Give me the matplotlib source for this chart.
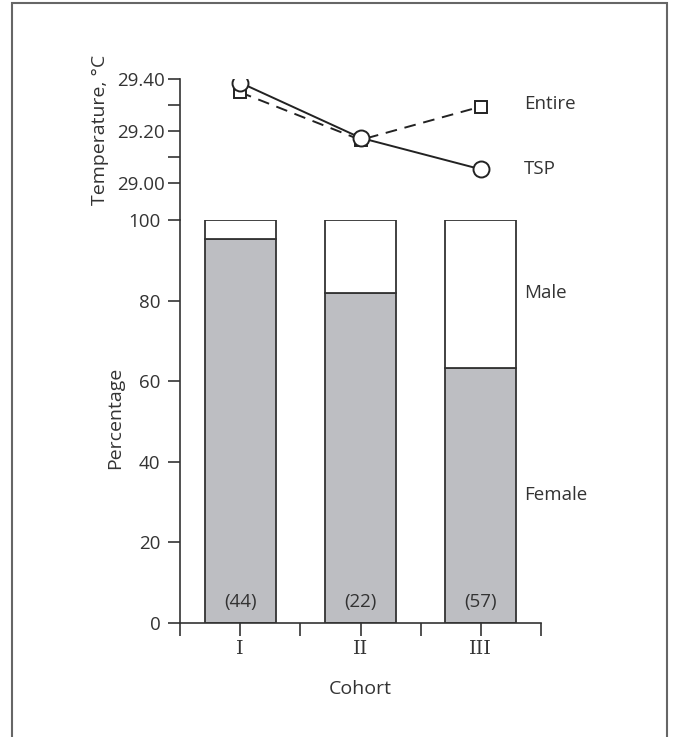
import matplotlib.pyplot as plt
from matplotlib.patches import Rectangle

# data
cohorts = ["I", "II", "III"]
female = [95.2, 81.8, 63.2]
male = [100 - f for f in female]
n_counts = ["(44)", "(22)", "(57)"]
temp_tsp = [29.387, 29.175, 29.054]
temp_entire = [29.35, 29.167, 29.295]

plt.rcParams['font.family'] = ['Open Sans', 'DejaVu Sans']
txt = "#333333"
edge = "#333333"
grey = "#bdbec2"

fig = plt.figure(figsize=(6.78, 7.37), dpi=100)

# frame around the figure
fig.patches.append(Rectangle((12 / 678, -0.05), 655 / 678, 1.05 - 3 / 737,
                             transform=fig.transFigure, fill=False,
                             edgecolor="#666666", linewidth=1.5))

x = list(range(len(cohorts)))

# bar panel
ax = fig.add_axes([180 / 678, 1 - 623 / 737, 361 / 678, 403 / 737])
ax.bar(x, female, width=0.59, color=grey, edgecolor=edge, linewidth=1.3)
ax.bar(x, male, width=0.59, bottom=female, color="white", edgecolor=edge, linewidth=1.3)
for xi, n in zip(x, n_counts):
    ax.text(xi, 5.2, n, ha="center", va="center", fontsize=13.5, color=txt)
ax.text(2.36, 81.9, "Male", ha="left", va="center", fontsize=13.5, color=txt)
ax.text(2.36, 31.8, "Female", ha="left", va="center", fontsize=13.5, color=txt)

ax.set_xlim(-0.5, 2.5)
ax.set_ylim(0, 100)
ax.set_yticks([0, 20, 40, 60, 80, 100])
ax.set_xticks(x)
ax.set_xticklabels(cohorts, family=["DejaVu Serif"], fontsize=14, color=txt)
ax.set_xticks([-0.5, 0.5, 1.5, 2.5], minor=True)
ax.tick_params(axis="x", which="both", direction="out", length=9, width=1.2, color=edge, pad=3)
ax.tick_params(axis="y", direction="out", length=9, width=1.2, color=edge, labelsize=13.5,
               labelcolor=txt, pad=5)
for s in ["top", "right"]:
    ax.spines[s].set_visible(False)
for s in ["left", "bottom"]:
    ax.spines[s].set_linewidth(1.2)
    ax.spines[s].set_color(edge)
ax.set_ylabel("Percentage", fontsize=14, color=txt)
ax.yaxis.set_label_coords(-0.155, 0.51)
ax.set_xlabel("Cohort", fontsize=14, color=txt, labelpad=16)

# temperature panel
ax2 = fig.add_axes([180 / 678, 1 - 220 / 737, 361 / 678, 140.7 / 737])
ax2.plot(x, temp_entire, linestyle=(0, (6, 4)), color="#222222", linewidth=1.4,
         marker="s", markersize=8.5, markerfacecolor="white", markeredgecolor="#222222",
         markeredgewidth=1.4, zorder=2)
ax2.plot(x, temp_tsp, linestyle="-", color="#222222", linewidth=1.4,
         marker="o", markersize=11.5, markerfacecolor="white", markeredgecolor="#222222",
         markeredgewidth=1.4, zorder=3)
ax2.text(2.36, 29.305, "Entire", ha="left", va="center", fontsize=13.5, color=txt)
ax2.text(2.36, 29.055, "TSP", ha="left", va="center", fontsize=13.5, color=txt)
ax2.set_xlim(-0.5, 2.5)
ax2.set_ylim(28.859, 29.40)
ax2.set_yticks([29.0, 29.2, 29.4])
ax2.set_yticklabels(["29.00", "29.20", "29.40"])
ax2.set_yticks([29.1, 29.3], minor=True)
ax2.tick_params(axis="y", which="both", direction="out", length=9, width=1.2, color=edge,
                labelsize=13.5, labelcolor=txt, pad=2)
ax2.set_xticks([])
for s in ["top", "right", "bottom"]:
    ax2.spines[s].set_visible(False)
ax2.spines["left"].set_linewidth(1.2)
ax2.spines["left"].set_color(edge)
ax2.patch.set_alpha(0)
ax2.set_ylabel("Temperature, °C", fontsize=14, color=txt)
ax2.yaxis.set_label_coords(-0.197, 0.64)

fig.savefig("out.png", dpi=100)
